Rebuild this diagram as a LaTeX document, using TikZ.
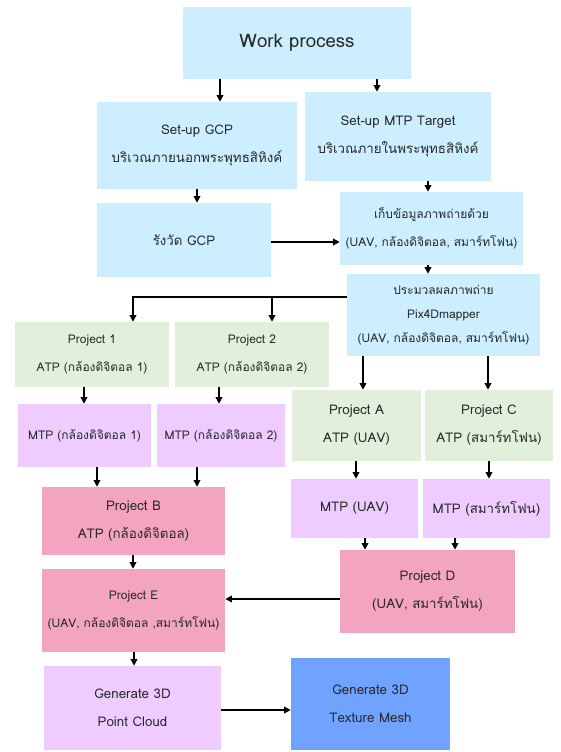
\documentclass[tikz,border=0pt]{standalone}
\usepackage{fontspec}
\setmainfont[Script=Thai]{Loma}
\usetikzlibrary{arrows.meta}
\definecolor{bluebg}{RGB}{204,238,255}
\definecolor{greenbg}{RGB}{226,239,218}
\definecolor{purplebg}{RGB}{238,204,255}
\definecolor{pinkbg}{RGB}{243,164,192}
\definecolor{meshbg}{RGB}{111,163,255}
\definecolor{textgrey}{RGB}{40,40,40}
\begin{document}
\begin{tikzpicture}[x=0.75pt,y=-0.75pt,
  box/.style={inner sep=1pt, align=center, text=textgrey,
    font=\fontsize{10}{21}\selectfont},
  small/.style={font=\fontsize{9}{21}\selectfont},
  arr/.style={draw, line width=1pt, -{Triangle[length=5pt,width=5pt]}}]
\useasboundingbox (0,0) rectangle (560,752);
% top row
\node[box, fill=bluebg, minimum width=171pt, minimum height=54pt,
  font=\fontsize{14}{18}\selectfont] (work) at (297,43) {Work process};
\node[box, fill=bluebg, minimum width=150pt, minimum height=65.25pt] (gcp) at (197,145.5)
  {Set-up GCP\\บริเวณภายนอกพระพุทธสิหิงค์};
\node[box, fill=bluebg, minimum width=139.5pt, minimum height=66.75pt] (mtpt) at (398,136.5)
  {Set-up MTP Target\\บริเวณภายในพระพุทธสิหิงค์};
\node[box, fill=bluebg, minimum width=130.5pt, minimum height=55.5pt] (survey) at (184,240)
  {รังวัด GCP};
\node[box, small, fill=bluebg, minimum width=137.25pt, minimum height=54.75pt] (collect) at (431.5,228.5)
  {เก็บข้อมูลภาพถ่ายด้วย\\(UAV, กล้องดิจิตอล, สมาร์ทโฟน)};
\node[box, fill=bluebg, minimum width=144.75pt, minimum height=61.5pt,
  font=\fontsize{9}{18}\selectfont] (process) at (443.5,315)
  {ประมวลผลภาพถ่าย\\Pix4Dmapper\\(UAV, กล้องดิจิตอล, สมาร์ทโฟน)};
% projects
\node[box, small, fill=greenbg, minimum width=115.5pt, minimum height=48.75pt] (p1) at (92,354.5)
  {Project 1\\ATP (กล้องดิจิตอล 1)};
\node[box, small, fill=greenbg, minimum width=115.5pt, minimum height=48.75pt] (p2) at (252,354.5)
  {Project 2\\ATP (กล้องดิจิตอล 2)};
\node[box, small, fill=purplebg, minimum width=99.75pt, minimum height=47.25pt] (mtp1) at (84.5,435.5)
  {MTP (กล้องดิจิตอล 1)};
\node[box, small, fill=purplebg, minimum width=96pt, minimum height=47.25pt] (mtp2) at (221,435.5)
  {MTP (กล้องดิจิตอล 2)};
\node[box, fill=greenbg, minimum width=96.75pt, minimum height=53.25pt] (pA) at (356.5,425.5)
  {Project A\\ATP (UAV)};
\node[box, fill=greenbg, minimum width=96pt, minimum height=53.25pt] (pC) at (489,425.5)
  {Project C\\ATP (สมาร์ทโฟน)};
\node[box, fill=purplebg, minimum width=95.25pt, minimum height=44.25pt] (mtpA) at (354.5,508.5)
  {MTP (UAV)};
\node[box, fill=purplebg, minimum width=95.25pt, minimum height=44.25pt] (mtpC) at (486.5,508.5)
  {MTP (สมาร์ทโฟน)};
\node[box, fill=pinkbg, minimum width=137.25pt, minimum height=51pt] (pB) at (133.5,521)
  {Project B\\ATP (กล้องดิจิตอล)};
\node[box, small, fill=pinkbg, minimum width=137.25pt, minimum height=62.25pt] (pE) at (133.5,610.5)
  {Project E\\(UAV, กล้องดิจิตอล ,สมาร์ทโฟน)};
\node[box, fill=pinkbg, minimum width=131.25pt, minimum height=62.25pt] (pD) at (427.5,591.5)
  {Project D\\(UAV, สมาร์ทโฟน)};
% output
\node[box, fill=purplebg, minimum width=132.75pt, minimum height=63pt] (cloud) at (132.5,708)
  {Generate 3D\\Point Cloud};
\node[box, fill=meshbg, minimum width=119.25pt, minimum height=69pt] (mesh) at (370.5,704)
  {Generate 3D\\Texture Mesh};
\coordinate (split) at (272,297);
% arrows
\path[arr] (work.south -| 220,0) -- (gcp.north -| 220,0);
\path[arr] (work.south -| 377,0) -- (mtpt.north -| 377,0);
\path[arr] (gcp.south -| 197,0) -- (survey.north -| 197,0);
\path[arr] (mtpt.south -| 428,0) -- (collect.north -| 428,0);
\path[arr] (survey.east |- 0,242) -- (collect.west |- 0,242);
\path[arr] (collect.south -| 428,0) -- (process.north -| 428,0);
\path[arr] (process.west |- split) -| (p1.north -| 133,0);
\path[arr] (split) -- (p2.north -| split);
\path[arr] (process.south -| 363,0) -- (pA.north -| 363,0);
\path[arr] (process.south -| 488,0) -- (pC.north -| 488,0);
\path[arr] (p1.south -| 84,0) -- (mtp1.north -| 84,0);
\path[arr] (p2.south -| 219,0) -- (mtp2.north -| 219,0);
\path[arr] (pA.south -| 356,0) -- (mtpA.north -| 356,0);
\path[arr] (pC.south -| 489,0) -- (mtpC.north -| 489,0);
\path[arr] (mtp1.south -| 97,0) -- (pB.north -| 97,0);
\path[arr] (mtp2.south -| 197,0) -- (pB.north -| 197,0);
\path[arr] (mtpA.south -| 365,0) -- (pD.north -| 365,0);
\path[arr] (mtpC.south -| 455,0) -- (pD.north -| 455,0);
\path[arr] (pB.south -| 133,0) -- (pE.north -| 133,0);
\path[arr] (pD.west |- 0,599) -- (pE.east |- 0,599);
\path[arr] (pE.south -| 134,0) -- (cloud.north -| 134,0);
\path[arr] (cloud.east |- 0,710) -- (mesh.west |- 0,710);
\end{tikzpicture}
\end{document}
